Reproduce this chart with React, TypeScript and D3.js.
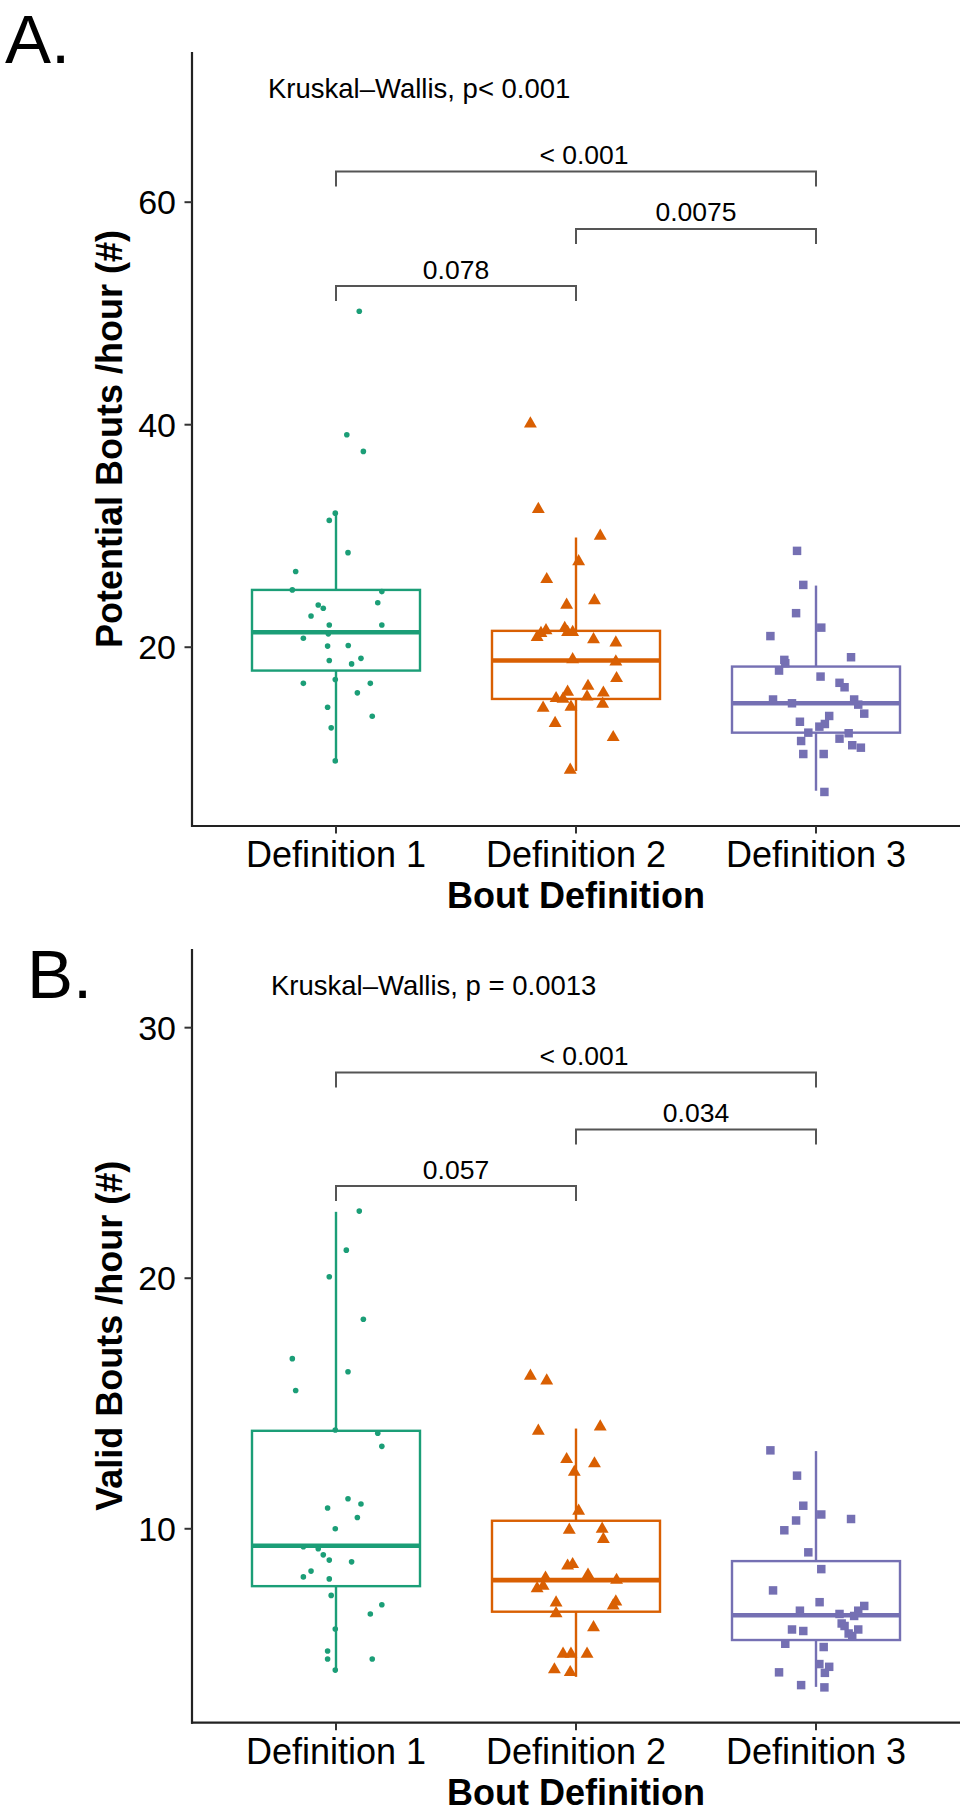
import React from 'react';
import * as d3 from 'd3';

// ---------- shared ----------
const categories = ['Definition 1', 'Definition 2', 'Definition 3'];
const colors = ['#1B9E77', '#D95F02', '#7570B3'];
const shapes = ['circle', 'triangle', 'square'];

// ---------- Panel A: Potential Bouts /hour ----------
const potDef1 = [50.2, 39.1, 37.6, 32.05, 31.4, 28.5, 26.8, 25.15, 25.0, 24.0, 23.8, 23.5, 22.8, 22.0, 22.0, 21.2, 20.8, 20.1, 20.15, 19.0, 18.8, 18.5, 17.1, 16.75, 16.75, 15.9, 14.6, 13.8, 12.75, 9.78];
const potDef1Jit = [0.097, 0.045, 0.114, -0.003, -0.028, 0.05, -0.168, -0.182, 0.191, 0.174, -0.074, -0.053, -0.104, -0.028, 0.191, -0.032, -0.136, -0.035, 0.051, 0.104, -0.028, 0.065, -0.003, -0.136, 0.143, 0.089, -0.035, 0.151, -0.02, -0.003];
const potDef2 = [40.08, 32.4, 30.0, 27.7, 26.1, 23.8, 24.2, 20.9, 21.26, 21.5, 21.7, 21.35, 21.35, 20.7, 20.4, 18.9, 18.7, 17.2, 16.5, 15.98, 15.4, 15.35, 15.55, 15.9, 14.9, 14.54, 14.63, 13.17, 11.9, 8.97];
const potDef2Jit = [-0.19, -0.157, 0.101, 0.011, -0.122, -0.039, 0.077, -0.162, -0.146, -0.125, -0.047, -0.035, -0.014, 0.073, 0.166, -0.014, 0.166, 0.169, 0.05, -0.035, -0.083, -0.054, 0.046, 0.114, 0.111, -0.137, -0.021, -0.087, 0.155, -0.024];
const potDef3 = [28.66, 25.6, 23.06, 21.76, 21.0, 19.1, 18.86, 18.56, 17.9, 17.36, 16.8, 16.4, 15.3, 14.96, 15.3, 14.84, 14.03, 13.82, 13.3, 13.1, 12.86, 12.32, 12.27, 11.57, 11.78, 11.19, 10.97, 10.4, 10.4, 6.99];
const potDef3Jit = [-0.079, -0.053, -0.083, 0.022, -0.19, 0.146, -0.132, -0.128, -0.154, 0.019, 0.098, 0.119, -0.179, -0.1, 0.159, 0.176, 0.201, 0.055, -0.067, 0.037, 0.014, -0.032, 0.136, -0.062, 0.098, 0.151, 0.187, -0.053, 0.032, 0.035];
const potLower = [9.78, 8.88, 7.1];
const potQ1 = [17.9, 15.35, 12.32];
const potMedian = [21.35, 18.8, 14.96];
const potQ3 = [25.15, 21.47, 18.26];
const potUpper = [32.1, 29.86, 25.54];
const potDomain = [3.93, 73.5];
const potTicks = [20, 40, 60];
const potBrackets = [
  { from: 0, to: 1, y: 52.46, label: '0.078' },
  { from: 1, to: 2, y: 57.6, label: '0.0075' },
  { from: 0, to: 2, y: 62.77, label: '< 0.001' },
];

// ---------- Panel B: Valid Bouts /hour ----------
const valDef1 = [22.68, 21.12, 20.06, 18.36, 16.79, 16.27, 15.52, 13.94, 13.81, 13.29, 11.2, 10.83, 10.99, 10.45, 10.0, 9.28, 9.2, 8.96, 8.75, 8.68, 8.31, 8.08, 8.0, 7.34, 6.97, 6.6, 6.0, 5.12, 4.8, 4.8, 4.36];
const valDef1Jit = [0.097, 0.043, -0.028, 0.114, -0.182, 0.05, -0.168, -0.003, 0.174, 0.191, 0.05, -0.035, 0.104, 0.089, -0.003, -0.136, -0.074, -0.053, -0.028, 0.065, -0.104, -0.136, -0.028, -0.02, 0.191, 0.143, -0.003, -0.035, -0.035, 0.151, -0.003];
const valDef2 = [16.1, 15.91, 13.9, 14.07, 12.77, 12.6, 12.26, 10.71, 9.95, 9.99, 9.58, 8.52, 8.58, 8.04, 8.16, 7.95, 7.62, 7.71, 7.05, 7.09, 6.93, 6.62, 6.06, 5.0, 5.0, 5.0, 4.38, 4.27];
const valDef2Jit = [-0.19, -0.122, -0.157, 0.101, -0.039, 0.077, -0.007, 0.011, -0.028, 0.109, 0.114, -0.035, -0.014, -0.127, 0.05, 0.169, -0.162, -0.137, -0.083, 0.166, 0.155, -0.083, 0.073, -0.054, -0.021, 0.046, -0.09, -0.024];
const valDef3 = [13.13, 12.12, 10.92, 10.57, 10.33, 10.39, 9.94, 9.06, 8.39, 7.54, 7.07, 6.73, 6.6, 6.92, 6.73, 6.52, 6.22, 6.12, 5.98, 5.92, 5.98, 5.82, 5.72, 5.41, 5.28, 4.6, 4.49, 4.25, 4.27, 3.76, 3.67];
const valDef3Jit = [-0.19, -0.079, -0.053, 0.022, -0.083, 0.146, -0.132, -0.032, 0.022, -0.179, 0.015, -0.067, 0.098, 0.201, 0.176, 0.159, 0.107, 0.119, -0.1, -0.053, 0.176, 0.136, 0.151, -0.128, 0.032, 0.014, 0.055, 0.037, -0.154, -0.062, 0.035];
const valLower = [4.36, 4.09, 3.69];
const valQ1 = [7.71, 6.69, 5.56];
const valMedian = [9.32, 7.95, 6.55];
const valQ3 = [13.91, 10.32, 8.71];
const valUpper = [22.65, 14.0, 13.1];
const valDomain = [2.26, 33.14];
const valTicks = [10, 20, 30];
const valBrackets = [
  { from: 0, to: 1, y: 23.68, label: '0.057' },
  { from: 1, to: 2, y: 25.94, label: '0.034' },
  { from: 0, to: 2, y: 28.21, label: '< 0.001' },
];

const FONT = "'Liberation Sans', Arial, Helvetica, sans-serif";

type PanelProps = {
  top: number;
  bottom: number;
  letter: string;
  letterX: number;
  letterY: number;
  yTitle: string;
  kwLabel: string;
  kwX: number;
  values: number[][];
  jitters: number[][];
  lower: number[];
  q1: number[];
  median: number[];
  q3: number[];
  upper: number[];
  domain: number[];
  ticks: number[];
  brackets: { from: number; to: number; y: number; label: string }[];
};

const LEFT = 192;
const RIGHT = 960;

function Marker({ shape, x, y, color }: { shape: string; x: number; y: number; color: string }) {
  if (shape === 'circle') return <circle cx={x} cy={y} r={2.8} fill={color} />;
  const sym = shape === 'triangle' ? d3.symbolTriangle : d3.symbolSquare;
  const d = d3.symbol().type(sym).size(72)() as string;
  return <path d={d} transform={`translate(${x},${y})`} fill={color} />;
}

function Panel(p: PanelProps) {
  const x = d3.scaleLinear().domain([-0.6, 2.6]).range([LEFT, RIGHT]);
  const y = d3.scaleLinear().domain(p.domain).range([p.bottom, p.top]);
  const half = 0.35;
  const tickLen = 15;
  const midY = (p.top + p.bottom) / 2;
  return (
    <g>
      <text x={p.letterX} y={p.letterY} fontSize={69} fontFamily={FONT} fill="#000">{p.letter}</text>
      <text x={p.kwX} y={y(p.domain[1]) + 46} fontSize={27.5} fontFamily={FONT} fill="#000">{p.kwLabel}</text>

      {/* boxes */}
      {categories.map((c, i) => {
        const cx = x(i);
        const x0 = x(i - half);
        const x1 = x(i + half);
        return (
          <g key={c} stroke={colors[i]} fill="none">
            <line x1={cx} x2={cx} y1={y(p.q3[i])} y2={y(p.upper[i])} strokeWidth={2.4} />
            <line x1={cx} x2={cx} y1={y(p.q1[i])} y2={y(p.lower[i])} strokeWidth={2.4} />
            <rect x={x0} y={y(p.q3[i])} width={x1 - x0} height={y(p.q1[i]) - y(p.q3[i])} strokeWidth={2.4} fill="#fff" />
            <line x1={x0} x2={x1} y1={y(p.median[i])} y2={y(p.median[i])} strokeWidth={4.6} />
          </g>
        );
      })}

      {/* jittered points */}
      {categories.map((c, i) => (
        <g key={c + 'pts'}>
          {p.values[i].map((v, j) => (
            <Marker key={j} shape={shapes[i]} x={x(i + p.jitters[i][j])} y={y(v)} color={colors[i]} />
          ))}
        </g>
      ))}

      {/* brackets */}
      {p.brackets.map((b, k) => {
        const xa = x(b.from);
        const xb = x(b.to);
        const yy = y(b.y);
        const shift = b.label.startsWith('<') ? 8 : 0;
        return (
          <g key={k}>
            <path d={`M${xa},${yy + tickLen}V${yy}H${xb}V${yy + tickLen}`} stroke="#555" strokeWidth={2} fill="none" />
            <text x={(xa + xb) / 2 + shift} y={yy - 7.5} textAnchor="middle" fontSize={26.5} fontFamily={FONT} fill="#000">{b.label}</text>
          </g>
        );
      })}

      {/* axes */}
      <line x1={LEFT} x2={LEFT} y1={p.top} y2={p.bottom + 1} stroke="#222" strokeWidth={2.2} />
      <line x1={LEFT - 1} x2={RIGHT} y1={p.bottom} y2={p.bottom} stroke="#222" strokeWidth={2.2} />
      {p.ticks.map(t => (
        <g key={t}>
          <line x1={LEFT - 7.5} x2={LEFT} y1={y(t)} y2={y(t)} stroke="#333" strokeWidth={2} />
          <text x={LEFT - 16} y={y(t)} dy="0.36em" textAnchor="end" fontSize={34} fontFamily={FONT} fill="#000">{t}</text>
        </g>
      ))}
      {categories.map((c, i) => (
        <g key={c + 'tick'}>
          <line x1={x(i)} x2={x(i)} y1={p.bottom} y2={p.bottom + 7.5} stroke="#333" strokeWidth={2} />
          <text x={x(i)} y={p.bottom + 41} textAnchor="middle" fontSize={36} fontFamily={FONT} fill="#000">{c}</text>
        </g>
      ))}
      <text x={(LEFT + RIGHT) / 2} y={p.bottom + 82} textAnchor="middle" fontSize={36} fontWeight="bold" fontFamily={FONT} fill="#000">Bout Definition</text>
      <text transform={`translate(121.5,${midY}) rotate(-90)`} textAnchor="middle" fontSize={36} fontWeight="bold" fontFamily={FONT} fill="#000">{p.yTitle}</text>
    </g>
  );
}

export default function App() {
  return (
    <svg width={970} height={1812} style={{ position: 'absolute', left: 0, top: 0, background: '#fff' }}>
      <rect width={970} height={1812} fill="#fff" />
      <Panel
        top={52}
        bottom={826}
        letter="A."
        letterX={5}
        letterY={63}
        yTitle="Potential Bouts /hour (#)"
        kwLabel="Kruskal–Wallis, p< 0.001"
        kwX={268}
        values={[potDef1, potDef2, potDef3]}
        jitters={[potDef1Jit, potDef2Jit, potDef3Jit]}
        lower={potLower}
        q1={potQ1}
        median={potMedian}
        q3={potQ3}
        upper={potUpper}
        domain={potDomain}
        ticks={potTicks}
        brackets={potBrackets}
      />
      <Panel
        top={949}
        bottom={1722.7}
        letter="B."
        letterX={27}
        letterY={998}
        yTitle="Valid Bouts /hour (#)"
        kwLabel="Kruskal–Wallis, p = 0.0013"
        kwX={271}
        values={[valDef1, valDef2, valDef3]}
        jitters={[valDef1Jit, valDef2Jit, valDef3Jit]}
        lower={valLower}
        q1={valQ1}
        median={valMedian}
        q3={valQ3}
        upper={valUpper}
        domain={valDomain}
        ticks={valTicks}
        brackets={valBrackets}
      />
    </svg>
  );
}
